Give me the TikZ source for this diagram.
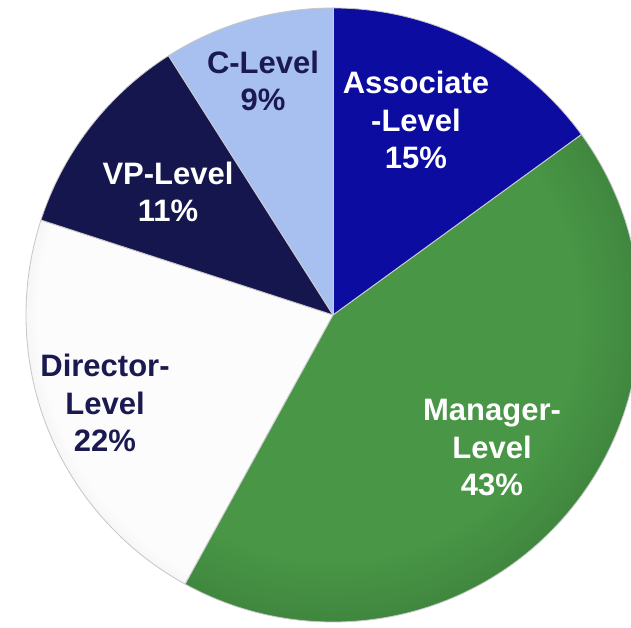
\documentclass[tikz,border=0pt]{standalone}
\usepackage{fontspec}
\setmainfont{Liberation Sans}
\definecolor{assocIn}{RGB}{12,12,160}
\definecolor{assocOut}{RGB}{8,8,118}
\definecolor{manIn}{RGB}{72,150,70}
\definecolor{manOut}{RGB}{48,104,48}
\definecolor{dirIn}{RGB}{252,252,253}
\definecolor{dirOut}{RGB}{186,186,194}
\definecolor{vpIn}{RGB}{22,22,78}
\definecolor{vpOut}{RGB}{14,14,54}
\definecolor{cIn}{RGB}{168,192,240}
\definecolor{cOut}{RGB}{136,158,208}
\definecolor{navytext}{RGB}{26,26,80}
\pgfdeclareradialshading{assocsh}{\pgfpoint{0bp}{0bp}}{color(0bp)=(assocIn); color(30bp)=(assocIn); color(35.4bp)=(assocOut); color(50bp)=(assocOut)}
\pgfdeclareradialshading{mansh}{\pgfpoint{0bp}{0bp}}{color(0bp)=(manIn); color(20bp)=(manIn); color(35.4bp)=(manOut); color(50bp)=(manOut)}
\pgfdeclareradialshading{dirsh}{\pgfpoint{0bp}{0bp}}{color(0bp)=(dirIn); color(24bp)=(dirIn); color(35.4bp)=(dirOut); color(50bp)=(dirOut)}
\pgfdeclareradialshading{vpsh}{\pgfpoint{0bp}{0bp}}{color(0bp)=(vpIn); color(30bp)=(vpIn); color(35.4bp)=(vpOut); color(50bp)=(vpOut)}
\pgfdeclareradialshading{csh}{\pgfpoint{0bp}{0bp}}{color(0bp)=(cIn); color(30bp)=(cIn); color(35.4bp)=(cOut); color(50bp)=(cOut)}
\begin{document}
\begin{tikzpicture}[x=1pt,y=1pt,
  lbl/.style={align=center,inner sep=0pt,font=\fontsize{31}{37.5}\selectfont\bfseries},
  sliceedge/.style={draw=white!60!gray,line width=1pt}]
\useasboundingbox (0,0) rectangle (631,628);
\clip (0,0) rectangle (631,628);
\fill[white] (0,0) rectangle (631,628);
\coordinate (c) at (333,313);
\def\R{307}
% Associate
\begin{scope}
\clip (c) -- ++(36:\R) arc[start angle=36,end angle=90,radius=\R] -- cycle;
\shade[shading=assocsh] (c) circle[radius=\R];
\end{scope}
% Manager
\begin{scope}
\clip (c) -- ++(-118.8:\R) arc[start angle=-118.8,end angle=36,radius=\R] -- cycle;
\shade[shading=mansh] (c) circle[radius=\R];
\end{scope}
% Director
\begin{scope}
\clip (c) -- ++(162:\R) arc[start angle=162,end angle=241.2,radius=\R] -- cycle;
\shade[shading=dirsh] (c) circle[radius=\R];
\end{scope}
% VP
\begin{scope}
\clip (c) -- ++(122.4:\R) arc[start angle=122.4,end angle=162,radius=\R] -- cycle;
\shade[shading=vpsh] (c) circle[radius=\R];
\end{scope}
% C-Level
\begin{scope}
\clip (c) -- ++(90:\R) arc[start angle=90,end angle=122.4,radius=\R] -- cycle;
\shade[shading=csh] (c) circle[radius=\R];
\end{scope}
% edges
\foreach \a in {36,90,122.4,162,241.2}{
  \draw[sliceedge] (c) -- ++(\a:\R);
}
\draw[draw=gray!45,line width=0.8pt] (c) circle[radius=\R];
% labels
\node[lbl,text=navytext] (clevel) at (263,547) {C-Level\\9\%};
\node[lbl,text=white] (assoc) at (416,508) {Associate\\-Level\\15\%};
\node[lbl,text=white] (vp) at (168,436) {VP-Level\\11\%};
\node[lbl,text=navytext] (dir) at (105,225) {Director-\\Level\\22\%};
\node[lbl,text=white] (man) at (492,180) {Manager-\\Level\\43\%};
\end{tikzpicture}
\end{document}
